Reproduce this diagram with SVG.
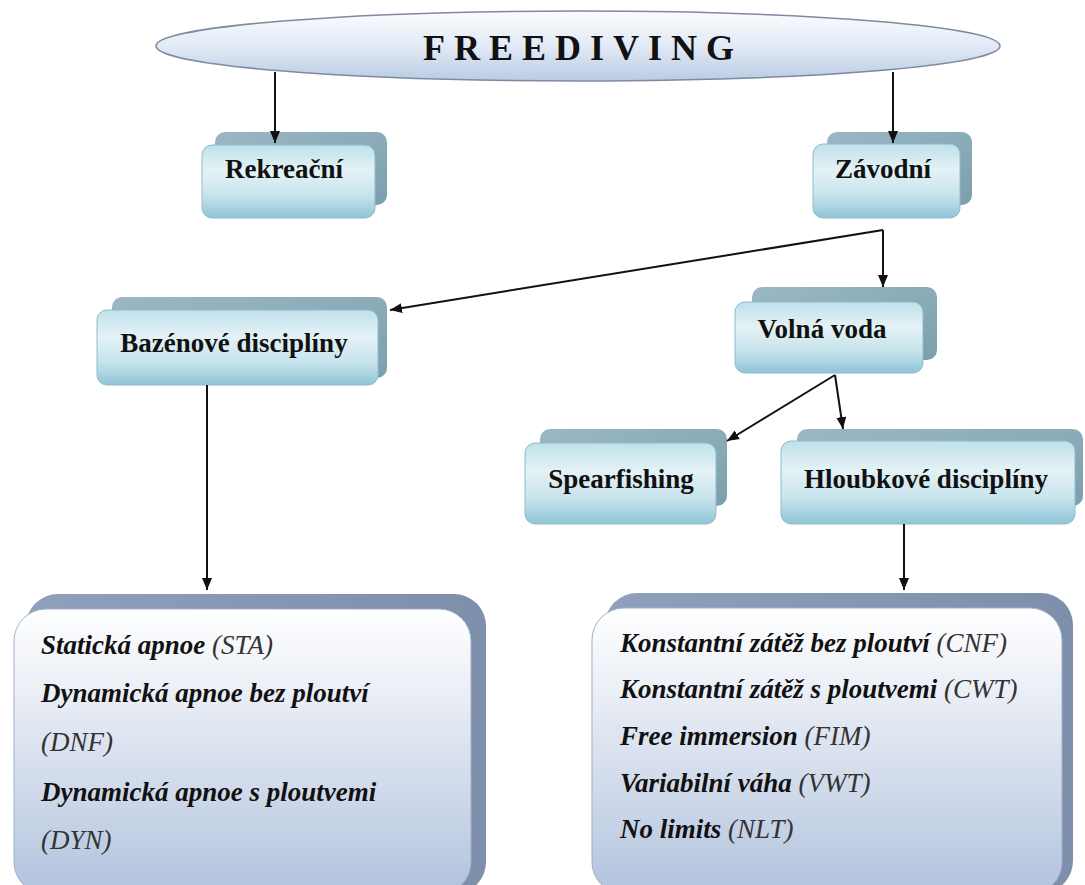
<svg xmlns="http://www.w3.org/2000/svg" width="1085" height="885" viewBox="0 0 1085 885">
  <defs>
    <linearGradient id="gEll" x1="0" y1="0" x2="0" y2="1">
      <stop offset="0" stop-color="#fbfcfe"/>
      <stop offset="0.5" stop-color="#e2eaf5"/>
      <stop offset="1" stop-color="#b9cbe4"/>
    </linearGradient>
    <linearGradient id="gFront" x1="0" y1="0" x2="0" y2="1">
      <stop offset="0" stop-color="#bfe0ea"/>
      <stop offset="0.35" stop-color="#e4f2f6"/>
      <stop offset="0.7" stop-color="#c6e3ec"/>
      <stop offset="1" stop-color="#8fc4d6"/>
    </linearGradient>
    <linearGradient id="gBack" x1="0" y1="0" x2="1" y2="1">
      <stop offset="0" stop-color="#9ab8c3"/>
      <stop offset="1" stop-color="#7c9fad"/>
    </linearGradient>
    <linearGradient id="gBigFront" x1="0" y1="0" x2="0" y2="1">
      <stop offset="0" stop-color="#ffffff"/>
      <stop offset="0.35" stop-color="#e6ebf4"/>
      <stop offset="1" stop-color="#b2c3de"/>
    </linearGradient>
    <linearGradient id="gBigBack" x1="0" y1="0" x2="1" y2="0">
      <stop offset="0" stop-color="#8ea0bb"/>
      <stop offset="1" stop-color="#7d8faa"/>
    </linearGradient>
    <marker id="arr" viewBox="0 0 12 10" refX="12" refY="5" markerWidth="12" markerHeight="10" markerUnits="userSpaceOnUse" orient="auto">
      <path d="M0,0 L12,5 L0,10 z" fill="#111"/>
    </marker>
  </defs>
  <style>
    .back { fill: url(#gBack); }
    .front { fill: url(#gFront); stroke: #8dbccc; stroke-width: 1; }
    .bigback { fill: url(#gBigBack); }
    .bigfront { fill: url(#gBigFront); stroke: #9fb0c8; stroke-width: 1; }
    .lbl { font-family: "Liberation Serif", "Times New Roman", serif; font-weight: bold; font-size: 27px; fill: #111; text-anchor: middle; }
    .item { font-family: "Liberation Serif", "Times New Roman", serif; font-weight: bold; font-style: italic; font-size: 27px; fill: #111; }
    .abbr { font-weight: normal; fill: #333; }
    .conn { stroke: #111; stroke-width: 2; fill: none; }
  </style>

  <g id="freediving">
    <ellipse cx="578" cy="46" rx="422" ry="35" fill="url(#gEll)" stroke="#7d8aa0" stroke-width="1.5"/>
    <text x="423" y="60" font-family="Liberation Serif, Times New Roman, serif" font-weight="bold" font-size="36" letter-spacing="9" fill="#111">FREEDIVING</text>
  </g>

  <g id="rekreacni">
    <rect class="back" x="215" y="132" width="172" height="73" rx="10"/>
    <rect class="front" x="202" y="145" width="173" height="73" rx="10"/>
    <text class="lbl" x="284" y="178">Rekreační</text>
  </g>

  <g id="zavodni">
    <rect class="back" x="827" y="132" width="145" height="73" rx="10"/>
    <rect class="front" x="813" y="144" width="147" height="74" rx="10"/>
    <text class="lbl" x="883" y="178">Závodní</text>
  </g>

  <g id="bazenove">
    <rect class="back" x="112" y="297" width="275" height="81" rx="10"/>
    <rect class="front" x="97" y="310" width="281" height="75" rx="10"/>
    <text class="lbl" x="234" y="352">Bazénové disciplíny</text>
  </g>

  <g id="volna">
    <rect class="back" x="752" y="287" width="185" height="73" rx="10"/>
    <rect class="front" x="735" y="302" width="188" height="71" rx="10"/>
    <text class="lbl" x="822" y="338">Volná voda</text>
  </g>

  <g id="spearfishing">
    <rect class="back" x="540" y="429" width="187" height="77" rx="10"/>
    <rect class="front" x="525" y="443" width="191" height="81" rx="10"/>
    <text class="lbl" x="621" y="488">Spearfishing</text>
  </g>

  <g id="hloubkove">
    <rect class="back" x="797" y="429" width="286" height="77" rx="10"/>
    <rect class="front" x="781" y="441" width="294" height="83" rx="10"/>
    <text class="lbl" x="926" y="488">Hloubkové disciplíny</text>
  </g>

  <g id="bazen-list">
    <rect class="bigback" x="26" y="594" width="460" height="300" rx="32"/>
    <rect class="bigfront" x="14" y="609" width="457" height="285" rx="32"/>
    <text class="item" x="41" y="654">Statická apnoe <tspan class="abbr">(STA)</tspan></text>
    <text class="item" x="41" y="702">Dynamická apnoe bez ploutví</text>
    <text class="item" x="41" y="751"><tspan class="abbr">(DNF)</tspan></text>
    <text class="item" x="41" y="801">Dynamická apnoe s ploutvemi</text>
    <text class="item" x="41" y="849"><tspan class="abbr">(DYN)</tspan></text>
  </g>

  <g id="hloubka-list">
    <rect class="bigback" x="605" y="593" width="468" height="300" rx="32"/>
    <rect class="bigfront" x="592" y="608" width="470" height="286" rx="32"/>
    <text class="item" x="620" y="652">Konstantní zátěž bez ploutví <tspan class="abbr">(CNF)</tspan></text>
    <text class="item" x="620" y="698">Konstantní zátěž s ploutvemi <tspan class="abbr">(CWT)</tspan></text>
    <text class="item" x="620" y="745">Free immersion <tspan class="abbr">(FIM)</tspan></text>
    <text class="item" x="620" y="792">Variabilní váha <tspan class="abbr">(VWT)</tspan></text>
    <text class="item" x="620" y="838">No limits <tspan class="abbr">(NLT)</tspan></text>
  </g>

  <g id="connectors">
    <line class="conn" x1="275" y1="72" x2="275" y2="143" marker-end="url(#arr)"/>
    <line class="conn" x1="893" y1="72" x2="893" y2="143" marker-end="url(#arr)"/>
    <line class="conn" x1="883" y1="230" x2="883" y2="287" marker-end="url(#arr)"/>
    <line class="conn" x1="883" y1="230" x2="390" y2="310" marker-end="url(#arr)"/>
    <line class="conn" x1="207" y1="385" x2="207" y2="590" marker-end="url(#arr)"/>
    <line class="conn" x1="835" y1="375" x2="727" y2="441" marker-end="url(#arr)"/>
    <line class="conn" x1="835" y1="375" x2="843" y2="429" marker-end="url(#arr)"/>
    <line class="conn" x1="904" y1="524" x2="904" y2="590" marker-end="url(#arr)"/>
  </g>
</svg>
